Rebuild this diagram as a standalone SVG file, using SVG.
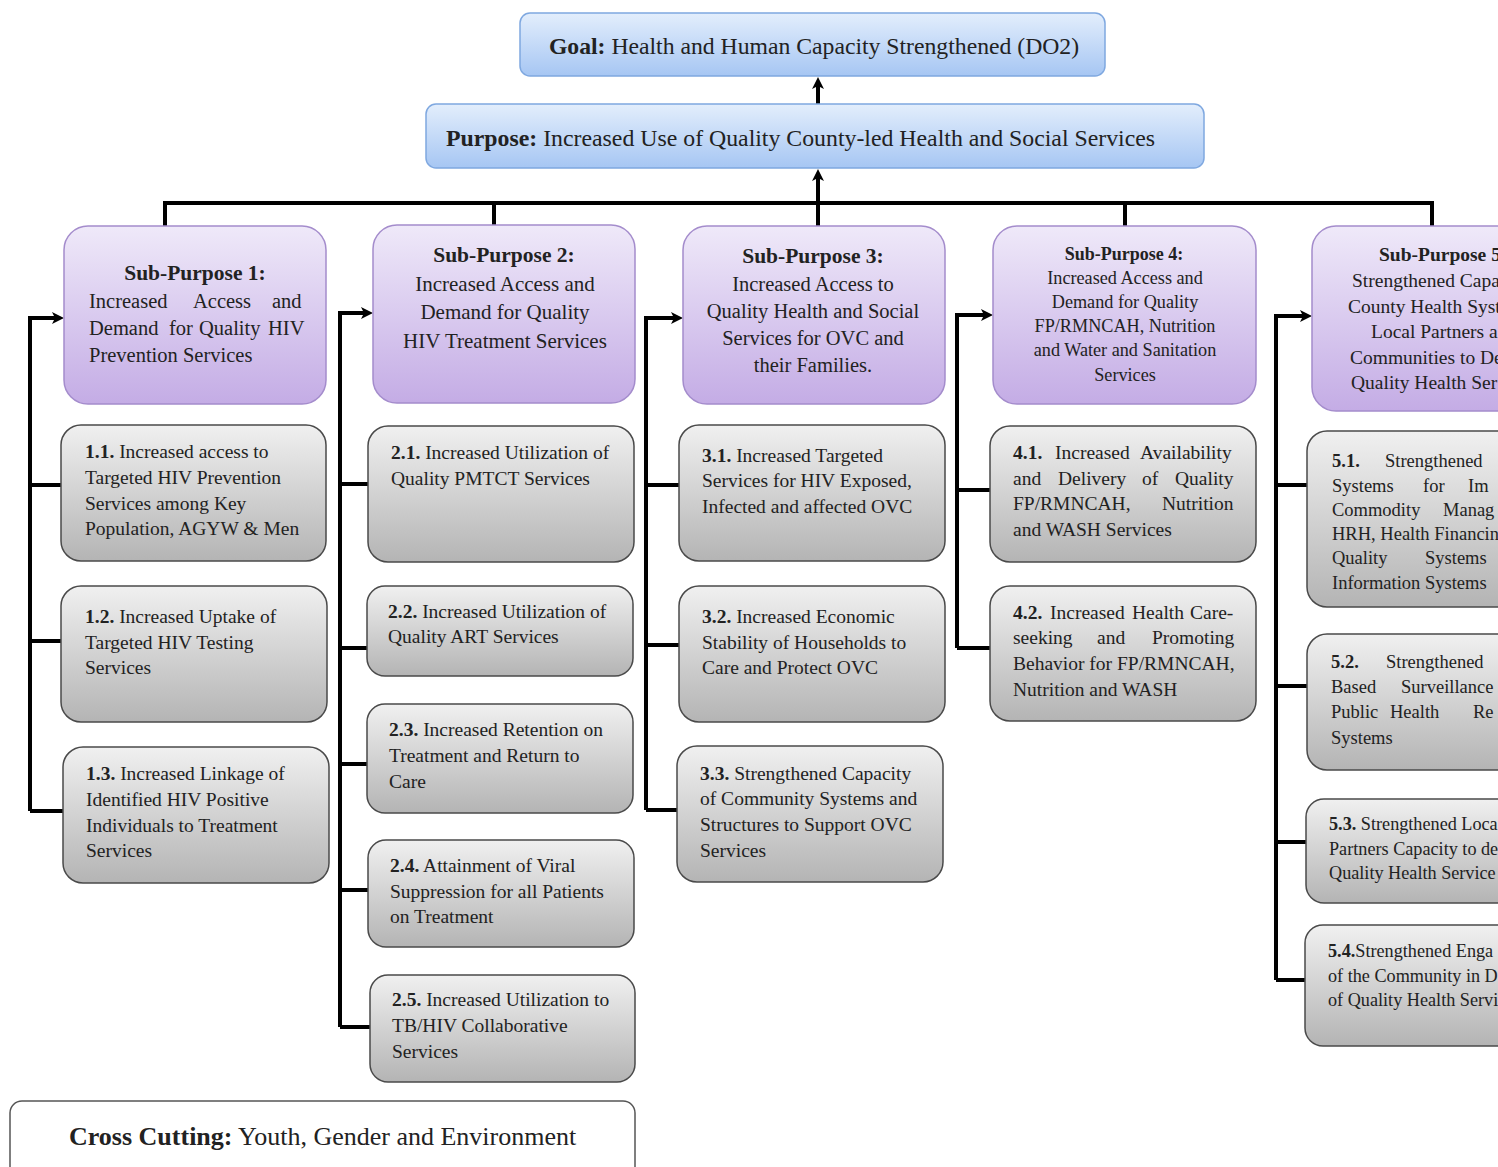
<svg xmlns="http://www.w3.org/2000/svg" width="1498" height="1167" viewBox="0 0 1498 1167">
<style>
.t{font-family:"Liberation Serif","Times New Roman",serif;fill:#222}
.b{font-weight:bold}
.c{font-size:19.5px}
.s{font-size:18.5px}
.m{text-anchor:middle}
.blue{fill:url(#gBlue);stroke:#7fa8e0;stroke-width:1.5}
.pur{fill:url(#gPur);stroke:#a48ccc;stroke-width:1.5}
.gry{fill:url(#gGry);stroke:#4a4a4a;stroke-width:1.5}
.ln{fill:none;stroke:#000;stroke-width:4;stroke-linejoin:miter}
</style>
<defs>
<linearGradient id="gBlue" x1="0" y1="0" x2="0" y2="1"><stop offset="0" stop-color="#e3eefc"/><stop offset="1" stop-color="#a6c6f3"/></linearGradient>
<linearGradient id="gPur" x1="0" y1="0" x2="0" y2="1"><stop offset="0" stop-color="#efe9f9"/><stop offset="1" stop-color="#c4ace5"/></linearGradient>
<linearGradient id="gGry" x1="0" y1="0" x2="0" y2="1"><stop offset="0" stop-color="#f0f0f0"/><stop offset="1" stop-color="#b4b4b4"/></linearGradient>
<marker id="ah" markerWidth="14" markerHeight="14" refX="3" refY="6" orient="auto" markerUnits="userSpaceOnUse"><path d="M0,0 L12,6 L0,12 L3,6 z" fill="#000"/></marker>
</defs>
<rect width="1498" height="1167" fill="#fff"/>

<g id="connectors">
<path class="ln" d="M818,104 V86" marker-end="url(#ah)"/>
<path class="ln" d="M818,203 V178" marker-end="url(#ah)"/>
<path class="ln" d="M165,226 V203 H1432 V226"/>
<path class="ln" d="M494,203 V225 M818,203 V226 M1125,203 V226"/>
<path class="ln" d="M30,811 V318 H55" marker-end="url(#ah)"/>
<path class="ln" d="M30,485 H61 M30,641 H61 M30,811 H63"/>
<path class="ln" d="M340,1027 V313 H364" marker-end="url(#ah)"/>
<path class="ln" d="M340,484 H368 M340,648 H367 M340,764 H367 M340,890 H368 M340,1027 H370"/>
<path class="ln" d="M646,810 V318 H674" marker-end="url(#ah)"/>
<path class="ln" d="M646,485 H679 M646,645 H679 M646,810 H677"/>
<path class="ln" d="M957,648 V315 H984" marker-end="url(#ah)"/>
<path class="ln" d="M957,490 H990 M957,648 H990"/>
<path class="ln" d="M1276,980 V316 H1303" marker-end="url(#ah)"/>
<path class="ln" d="M1276,485 H1307 M1276,686 H1307 M1276,842 H1306 M1276,980 H1305"/>
</g>

<g id="goal">
<rect class="blue" x="520" y="13" width="585" height="63" rx="10"/>
<text class="t" x="814" y="54" font-size="23.7" text-anchor="middle"><tspan class="b">Goal:</tspan> Health and Human Capacity Strengthened (DO2)</text>
</g>
<g id="purpose">
<rect class="blue" x="426" y="104" width="778" height="64" rx="10"/>
<text class="t" x="446" y="146" font-size="23.8"><tspan class="b">Purpose:</tspan> Increased Use of Quality County-led Health and Social Services</text>
</g>

<g id="sp1">
<rect class="pur" x="64" y="226" width="262" height="178" rx="24"/>
<text class="t b m" x="195" y="280" font-size="21.5">Sub-Purpose 1:</text>
<text class="t" font-size="20.5" y="308"><tspan x="89">Increased</tspan><tspan x="193">Access</tspan><tspan x="272">and</tspan></text>
<text class="t" font-size="20.5" y="335"><tspan x="89">Demand</tspan><tspan x="169">for</tspan><tspan x="199">Quality</tspan><tspan x="268">HIV</tspan></text>
<text class="t" font-size="20.5" x="89" y="362">Prevention Services</text>
</g>
<g id="sp2">
<rect class="pur" x="373" y="225" width="262" height="178" rx="24"/>
<text class="t b m" x="504" y="262" font-size="21.5">Sub-Purpose 2:</text>
<text class="t m" x="505" y="291" font-size="21">Increased Access and</text>
<text class="t m" x="505" y="319" font-size="21">Demand for Quality</text>
<text class="t m" x="505" y="348" font-size="21">HIV Treatment Services</text>
</g>
<g id="sp3">
<rect class="pur" x="683" y="226" width="262" height="178" rx="24"/>
<text class="t b m" x="813" y="263" font-size="21.5">Sub-Purpose 3:</text>
<text class="t m" x="813" y="291" font-size="20.5">Increased Access to</text>
<text class="t m" x="813" y="318" font-size="20.5">Quality Health and Social</text>
<text class="t m" x="813" y="345" font-size="20.5">Services for OVC and</text>
<text class="t m" x="813" y="372" font-size="20.5">their Families.</text>
</g>
<g id="sp4">
<rect class="pur" x="993" y="226" width="263" height="178" rx="24"/>
<text class="t b m" x="1124" y="260" font-size="18">Sub-Purpose 4:</text>
<text class="t m" x="1125" y="284" font-size="18.2">Increased Access and</text>
<text class="t m" x="1125" y="308" font-size="18.2">Demand for Quality</text>
<text class="t m" x="1125" y="332" font-size="18.2">FP/RMNCAH, Nutrition</text>
<text class="t m" x="1125" y="356" font-size="18.2">and Water and Sanitation</text>
<text class="t m" x="1125" y="381" font-size="18.2">Services</text>
</g>
<g id="sp5">
<rect class="pur" x="1312" y="226" width="260" height="185" rx="24"/>
<text class="t b" x="1379" y="261" font-size="19.5">Sub-Purpose 5</text>
<text class="t" x="1352" y="287" font-size="19.5">Strengthened Capa</text>
<text class="t" x="1348" y="313" font-size="19.5">County Health Syst</text>
<text class="t" x="1371" y="338" font-size="19.5">Local Partners a</text>
<text class="t" x="1350" y="364" font-size="19.5">Communities to De</text>
<text class="t" x="1351" y="389" font-size="19.5">Quality Health Ser</text>
</g>

<g id="n1-1">
<rect class="gry" x="61" y="425" width="265" height="136" rx="20"/>
<text class="t c" x="85" y="458"><tspan class="b">1.1.</tspan> Increased access to</text>
<text class="t c" x="85" y="484">Targeted HIV Prevention</text>
<text class="t c" x="85" y="510">Services among Key</text>
<text class="t c" x="85" y="535">Population, AGYW &amp; Men</text>
</g>
<g id="n1-2">
<rect class="gry" x="61" y="586" width="266" height="136" rx="20"/>
<text class="t c" x="85" y="623"><tspan class="b">1.2.</tspan> Increased Uptake of</text>
<text class="t c" x="85" y="649">Targeted HIV Testing</text>
<text class="t c" x="85" y="674">Services</text>
</g>
<g id="n1-3">
<rect class="gry" x="63" y="747" width="266" height="136" rx="20"/>
<text class="t c" x="86" y="780"><tspan class="b">1.3.</tspan> Increased Linkage of</text>
<text class="t c" x="86" y="806">Identified HIV Positive</text>
<text class="t c" x="86" y="832">Individuals to Treatment</text>
<text class="t c" x="86" y="857">Services</text>
</g>

<g id="n2-1">
<rect class="gry" x="368" y="426" width="266" height="136" rx="20"/>
<text class="t c" x="391" y="459"><tspan class="b">2.1.</tspan> Increased Utilization of</text>
<text class="t c" x="391" y="485">Quality PMTCT Services</text>
</g>
<g id="n2-2">
<rect class="gry" x="367" y="586" width="266" height="90" rx="18"/>
<text class="t c" x="388" y="618"><tspan class="b">2.2.</tspan> Increased Utilization of</text>
<text class="t c" x="388" y="643">Quality ART Services</text>
</g>
<g id="n2-3">
<rect class="gry" x="367" y="704" width="266" height="109" rx="18"/>
<text class="t c" x="389" y="736"><tspan class="b">2.3.</tspan> Increased Retention on</text>
<text class="t c" x="389" y="762">Treatment and Return to</text>
<text class="t c" x="389" y="788">Care</text>
</g>
<g id="n2-4">
<rect class="gry" x="368" y="840" width="266" height="107" rx="18"/>
<text class="t c" x="390" y="872"><tspan class="b">2.4.</tspan> Attainment of Viral</text>
<text class="t c" x="390" y="898">Suppression for all Patients</text>
<text class="t c" x="390" y="923">on Treatment</text>
</g>
<g id="n2-5">
<rect class="gry" x="370" y="975" width="265" height="107" rx="18"/>
<text class="t c" x="392" y="1006"><tspan class="b">2.5.</tspan> Increased Utilization to</text>
<text class="t c" x="392" y="1032">TB/HIV Collaborative</text>
<text class="t c" x="392" y="1058">Services</text>
</g>

<g id="n3-1">
<rect class="gry" x="679" y="425" width="266" height="136" rx="20"/>
<text class="t c" x="702" y="462"><tspan class="b">3.1.</tspan> Increased Targeted</text>
<text class="t c" x="702" y="487">Services for HIV Exposed,</text>
<text class="t c" x="702" y="513">Infected and affected OVC</text>
</g>
<g id="n3-2">
<rect class="gry" x="679" y="586" width="266" height="136" rx="20"/>
<text class="t c" x="702" y="623"><tspan class="b">3.2.</tspan> Increased Economic</text>
<text class="t c" x="702" y="649">Stability of Households to</text>
<text class="t c" x="702" y="674">Care and Protect OVC</text>
</g>
<g id="n3-3">
<rect class="gry" x="677" y="746" width="266" height="136" rx="20"/>
<text class="t c" x="700" y="780"><tspan class="b">3.3.</tspan> Strengthened Capacity</text>
<text class="t c" x="700" y="805">of Community Systems and</text>
<text class="t c" x="700" y="831">Structures to Support OVC</text>
<text class="t c" x="700" y="857">Services</text>
</g>

<g id="n4-1">
<rect class="gry" x="990" y="426" width="266" height="136" rx="20"/>
<text class="t c" y="459"><tspan class="b" x="1013">4.1.</tspan><tspan x="1055">Increased</tspan><tspan x="1140">Availability</tspan></text>
<text class="t c" y="485"><tspan x="1013">and</tspan><tspan x="1058">Delivery</tspan><tspan x="1142">of</tspan><tspan x="1175">Quality</tspan></text>
<text class="t c" y="510"><tspan x="1013">FP/RMNCAH,</tspan><tspan x="1162">Nutrition</tspan></text>
<text class="t c" x="1013" y="536">and WASH Services</text>
</g>
<g id="n4-2">
<rect class="gry" x="990" y="586" width="266" height="135" rx="20"/>
<text class="t c" y="619"><tspan class="b" x="1013">4.2.</tspan><tspan x="1050">Increased</tspan><tspan x="1132">Health</tspan><tspan x="1190">Care-</tspan></text>
<text class="t c" y="644"><tspan x="1013">seeking</tspan><tspan x="1097">and</tspan><tspan x="1152">Promoting</tspan></text>
<text class="t c" x="1013" y="670">Behavior for FP/RMNCAH,</text>
<text class="t c" x="1013" y="696">Nutrition and WASH</text>
</g>

<g id="n5-1">
<rect class="gry" x="1307" y="431" width="260" height="176" rx="20"/>
<text class="t s" y="467"><tspan class="b" x="1332">5.1.</tspan><tspan x="1385">Strengthened</tspan></text>
<text class="t s" y="492"><tspan x="1332">Systems</tspan><tspan x="1423">for</tspan><tspan x="1468">Im</tspan></text>
<text class="t s" y="516"><tspan x="1332">Commodity</tspan><tspan x="1443">Manag</tspan></text>
<text class="t s" x="1332" y="540">HRH, Health Financin</text>
<text class="t s" y="564"><tspan x="1332">Quality</tspan><tspan x="1425">Systems</tspan></text>
<text class="t s" x="1332" y="589">Information Systems</text>
</g>
<g id="n5-2">
<rect class="gry" x="1307" y="634" width="260" height="136" rx="20"/>
<text class="t s" y="668"><tspan class="b" x="1331">5.2.</tspan><tspan x="1386">Strengthened</tspan></text>
<text class="t s" y="693"><tspan x="1331">Based</tspan><tspan x="1401">Surveillance</tspan></text>
<text class="t s" y="718"><tspan x="1331">Public</tspan><tspan x="1390">Health</tspan><tspan x="1473">Re</tspan></text>
<text class="t s" x="1331" y="744">Systems</text>
</g>
<g id="n5-3">
<rect class="gry" x="1306" y="799" width="260" height="104" rx="18"/>
<text class="t" font-size="18.2" x="1329" y="830"><tspan class="b">5.3.</tspan> Strengthened Loca</text>
<text class="t" font-size="18.2" x="1329" y="855">Partners Capacity to de</text>
<text class="t" font-size="18.2" x="1329" y="879">Quality Health Service</text>
</g>
<g id="n5-4">
<rect class="gry" x="1305" y="925" width="260" height="121" rx="18"/>
<text class="t" font-size="18.2" x="1328" y="957"><tspan class="b">5.4.</tspan>Strengthened Enga</text>
<text class="t" font-size="18.2" x="1328" y="982">of the Community in D</text>
<text class="t" font-size="18.2" x="1328" y="1006">of Quality Health Servi</text>
</g>

<g id="crosscutting">
<rect x="10" y="1101" width="625" height="90" rx="12" fill="#fff" stroke="#555" stroke-width="1.5"/>
<text class="t" x="69" y="1145" font-size="26"><tspan class="b">Cross Cutting:</tspan> Youth, Gender and Environment</text>
</g>
</svg>
